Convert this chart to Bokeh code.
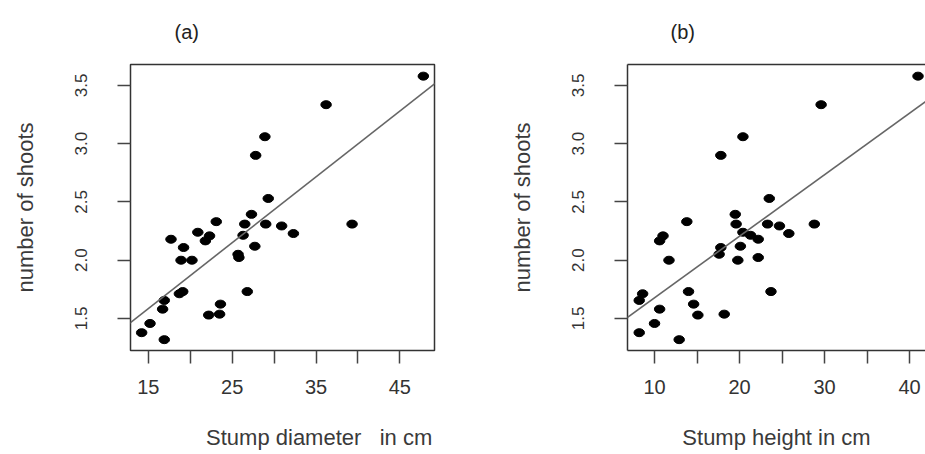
from bokeh.plotting import figure
from bokeh.layouts import row
from bokeh.models import FixedTicker, Range1d, Slope, LinearAxis
from bokeh.embed import file_html
from bokeh.resources import INLINE

# ---- data ----
shoots = [3.58, 3.335, 3.06, 2.90, 2.53, 2.394, 2.331, 2.31, 2.31, 2.31, 2.294, 2.24,
          2.229, 2.214, 2.209, 2.18, 2.166, 2.12, 2.109, 2.051, 2.023, 2.0, 2.0, 1.731,
          1.731, 1.712, 1.655, 1.623, 1.58, 1.537, 1.529, 1.457, 1.378, 1.318]
diameter = [47.8, 36.2, 28.9, 27.8, 29.3, 27.3, 23.1, 26.5, 29.0, 39.3, 30.9, 20.9,
            32.3, 26.3, 22.3, 17.7, 21.8, 27.7, 19.2, 25.7, 25.8, 18.9, 20.2, 26.8,
            19.1, 18.7, 16.9, 23.6, 16.7, 23.5, 22.2, 15.2, 14.2, 16.9]
height = [41.0, 29.6, 20.4, 17.8, 23.5, 19.5, 13.8, 19.6, 23.3, 28.8, 24.7, 20.4,
          25.8, 21.3, 11.0, 22.2, 10.6, 20.1, 17.8, 17.6, 22.2, 11.7, 19.8, 23.7,
          14.0, 8.6, 8.2, 14.6, 10.6, 18.2, 15.1, 10.0, 8.2, 12.9]

fit_a = {"slope": 0.0565, "intercept": 0.738}
fit_b = {"slope": 0.0528, "intercept": 1.150}

y_ticks = [1.5, 2.0, 2.5, 3.0, 3.5]
y_tick_labels = ["1.5", "2.0", "2.5", "3.0", "3.5"]
x_ticks_a = [15, 20, 25, 30, 35, 40, 45]
x_tick_labels_a = ["15", "", "25", "", "35", "", "45"]
x_ticks_b = [10, 15, 20, 25, 30, 35, 40]
x_tick_labels_b = ["10", "", "20", "", "30", "", "40"]

NB = "\u00a0"
xlabel_a = NB * 12 + "Stump diameter" + NB * 3 + "in cm"
xlabel_b = "Stump height in cm"

FONT = "Liberation Sans"
H = 454


def panel(xs, title, xlabel, xr, xticks, xlabels, fit, width, bl, br, toff, boxed):
    p = figure(width=width, height=H, x_range=Range1d(*xr), y_range=Range1d(1.225, 3.68),
               output_backend="svg", toolbar_location=None,
               min_border_left=bl, min_border_right=br, min_border_top=63,
               min_border_bottom=104, background_fill_color="white",
               border_fill_color="white")
    p.xgrid.visible = False
    p.ygrid.visible = False
    xa = p.xaxis[0]
    ya = p.yaxis[0]
    if boxed:
        p.outline_line_color = "#333333"
        p.outline_line_width = 1.5
    else:
        p.outline_line_color = None

    top = LinearAxis(ticker=FixedTicker(ticks=[]), major_label_text_font_size="0px",
                     major_tick_out=0, major_tick_in=0, major_label_standoff=0,
                     axis_line_color=None if boxed else "#333333", axis_line_width=1.5)
    p.add_layout(top, "above")

    for ax in (xa, ya):
        ax.axis_line_color = None if boxed else "#333333"
        ax.axis_line_width = 1.5
        ax.major_tick_out = 13
        ax.major_tick_in = 0
        ax.major_tick_line_color = "#444444"
        ax.major_tick_line_width = 1.5
        ax.minor_tick_line_color = None
        ax.major_label_text_font = FONT
        ax.major_label_text_color = "#333333"
        ax.axis_label_text_font = FONT
        ax.axis_label_text_font_style = "normal"
        ax.axis_label_text_color = "#3a3a3a"

    xa.ticker = FixedTicker(ticks=xticks)
    xa.major_label_overrides = {t: l for t, l in zip(xticks, xlabels)}
    xa.major_label_text_font_size = "20px"
    xa.major_label_standoff = 16
    xa.axis_label = xlabel
    xa.axis_label_text_font_size = "22px"
    xa.axis_label_standoff = 28

    ya.ticker = FixedTicker(ticks=y_ticks)
    ya.major_label_overrides = {t: l for t, l in zip(y_ticks, y_tick_labels)}
    ya.major_label_orientation = "vertical"
    ya.major_label_text_font_size = "17px"
    ya.major_label_standoff = 30
    ya.axis_label = "number of shoots"
    ya.axis_label_text_font_size = "22px"
    ya.axis_label_standoff = 35

    p.title.text = title
    p.title.align = "left"
    p.title.offset = toff
    p.title.text_font = FONT
    p.title.text_font_size = "20px"
    p.title.text_font_style = "normal"
    p.title.text_color = "#222222"
    p.title.vertical_align = "top"
    p.title.standoff = 40

    p.ellipse(xs, shoots, width=10.5, height=8, width_units="screen",
              height_units="screen", color="black")
    p.add_layout(Slope(gradient=fit["slope"], y_intercept=fit["intercept"],
                       line_color="#666666", line_width=1.6))
    return p


pa = panel(diameter, "(a)", xlabel_a, (12.87, 49.13), x_ticks_a,
           x_tick_labels_a, fit_a, 460, 130, 26, 44, True)
pb = panel(height, "(b)", xlabel_b, (6.82, 41.88), x_ticks_b,
           x_tick_labels_b, fit_b, 465, 167, 0, 43, False)

layout = row(pa, pb)
open("out.html", "w").write(file_html(layout, INLINE))
